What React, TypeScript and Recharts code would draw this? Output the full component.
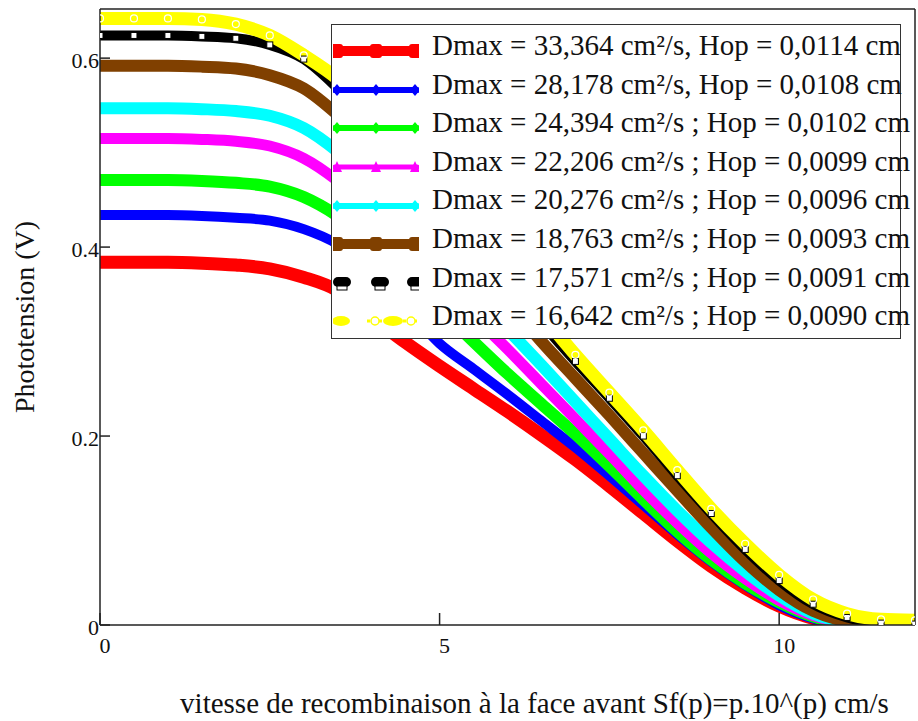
import React from 'react'
import { LineChart, Line, XAxis, YAxis, Label } from 'recharts'

// Sf exponent p (x axis)
const pValues = [0, 0.5, 1, 1.5, 2, 2.5, 3, 3.5, 4, 4.5, 5, 5.5, 6, 6.5, 7, 7.5, 8, 8.5, 9, 9.5, 10, 10.5, 11, 11.5, 12]

// phototension (V) per curve
const vRed = [0.384, 0.384, 0.384, 0.383, 0.381, 0.377, 0.368, 0.354, 0.326, 0.299, 0.274, 0.25, 0.226, 0.201, 0.175, 0.147, 0.118, 0.089, 0.062, 0.039, 0.02, 0.007, 0.001, 0, 0]
const vBlue = [0.434, 0.434, 0.434, 0.433, 0.431, 0.428, 0.419, 0.403, 0.375, 0.336, 0.298, 0.271, 0.244, 0.216, 0.188, 0.158, 0.127, 0.096, 0.067, 0.042, 0.021, 0.007, 0.001, 0, 0]
const vGreen = [0.471, 0.471, 0.471, 0.47, 0.468, 0.464, 0.453, 0.433, 0.405, 0.37, 0.335, 0.3, 0.266, 0.234, 0.202, 0.168, 0.133, 0.099, 0.069, 0.044, 0.024, 0.009, 0.002, 0, 0]
const vMagenta = [0.515, 0.515, 0.515, 0.514, 0.512, 0.507, 0.494, 0.47, 0.438, 0.4, 0.362, 0.327, 0.292, 0.255, 0.218, 0.181, 0.143, 0.108, 0.076, 0.049, 0.026, 0.01, 0.002, 0, 0]
const vCyan = [0.547, 0.547, 0.547, 0.546, 0.544, 0.539, 0.526, 0.501, 0.468, 0.429, 0.39, 0.351, 0.313, 0.275, 0.236, 0.197, 0.158, 0.121, 0.087, 0.057, 0.031, 0.012, 0.003, 0.001, 0]
const vBrown = [0.592, 0.592, 0.592, 0.591, 0.589, 0.582, 0.568, 0.54, 0.505, 0.465, 0.425, 0.384, 0.342, 0.3, 0.261, 0.222, 0.182, 0.142, 0.103, 0.067, 0.037, 0.015, 0.004, 0.001, 0]
const vBlack = [0.624, 0.624, 0.624, 0.623, 0.621, 0.614, 0.599, 0.568, 0.531, 0.491, 0.449, 0.406, 0.363, 0.32, 0.279, 0.24, 0.2, 0.158, 0.118, 0.08, 0.047, 0.022, 0.008, 0.002, 0.001]
const vYellow = [0.642, 0.642, 0.642, 0.641, 0.636, 0.624, 0.603, 0.578, 0.543, 0.503, 0.461, 0.418, 0.373, 0.329, 0.286, 0.246, 0.206, 0.164, 0.123, 0.086, 0.053, 0.027, 0.012, 0.006, 0.005]

const legendLabels = [
  'Dmax = 33,364 cm²/s, Hop = 0,0114 cm',
  'Dmax = 28,178 cm²/s, Hop = 0,0108 cm',
  'Dmax = 24,394 cm²/s ; Hop = 0,0102 cm',
  'Dmax = 22,206 cm²/s ; Hop = 0,0099 cm',
  'Dmax = 20,276 cm²/s ; Hop = 0,0096 cm',
  'Dmax = 18,763 cm²/s ; Hop = 0,0093 cm',
  'Dmax = 17,571 cm²/s ; Hop = 0,0091 cm',
  'Dmax = 16,642 cm²/s ; Hop = 0,0090 cm',
]

const xTicks = [0, 5, 10]
const yTicks = [0, 0.2, 0.4, 0.6]

const FONT = '"Liberation Serif", "Times New Roman", serif'

const series = [
  { key: 's1', values: vRed, color: '#ff0000', width: 13, marker: 'square' },
  { key: 's2', values: vBlue, color: '#0000ff', width: 10, marker: 'diamond' },
  { key: 's3', values: vGreen, color: '#00ff00', width: 12, marker: 'diamond' },
  { key: 's4', values: vMagenta, color: '#ff00ff', width: 11, marker: 'triangle' },
  { key: 's5', values: vCyan, color: '#00ffff', width: 12, marker: 'diamond' },
  { key: 's6', values: vBrown, color: '#804000', width: 12, marker: 'square' },
  { key: 's7', values: vBlack, color: '#000000', width: 10, marker: 'box' },
  { key: 's8', values: vYellow, color: '#ffff00', width: 13, marker: 'circle' },
]

const data = pValues.map((p, i) => {
  const row: any = { p }
  series.forEach((s) => { row[s.key] = s.values[i] })
  return row
})

const BlackDot = (props: any) => {
  const { cx, cy } = props
  if (cx == null || cy == null) return <g />
  return <rect x={cx - 3} y={cy - 3} width={6} height={6} fill="#fff" stroke="#000" strokeWidth={1} />
}

const YellowDot = (props: any) => {
  const { cx, cy } = props
  if (cx == null || cy == null) return <g />
  return <circle cx={cx} cy={cy} r={3.5} fill="none" stroke="#fff" strokeWidth={1.2} />
}

function LegendSample({ color, marker }: { color: string; marker: string }) {
  const xs = [6, 44, 80]
  const y = 10
  if (marker === 'box') {
    return (
      <svg width={86} height={20}>
        {xs.map((x) => (
          <g key={x}>
            <rect x={x - 6} y={y - 6} width={18} height={10} rx={5} fill="#000" />
            <rect x={x - 2} y={y + 3} width={10} height={4} fill="#fff" stroke="#000" strokeWidth={1} />
          </g>
        ))}
      </svg>
    )
  }
  if (marker === 'circle') {
    return (
      <svg width={86} height={20}>
        <ellipse cx={8} cy={y} rx={9} ry={5} fill={color} />
        <line x1={34} y1={y} x2={84} y2={y} stroke={color} strokeWidth={3} strokeDasharray="3 3" />
        <circle cx={42} cy={y} r={4} fill="#fff" stroke={color} strokeWidth={1.5} />
        <ellipse cx={60} cy={y} rx={10} ry={5} fill={color} />
        <circle cx={78} cy={y} r={4} fill="#fff" stroke={color} strokeWidth={1.5} />
      </svg>
    )
  }
  const thick = marker === 'square' ? 10 : marker === 'triangle' ? 5 : 6
  return (
    <svg width={86} height={20}>
      <line x1={2} y1={y} x2={84} y2={y} stroke={color} strokeWidth={thick} strokeLinecap="round" />
      {[4, 43, 82].map((x) => {
        if (marker === 'square') return <rect key={x} x={x - 6} y={y - 7} width={12} height={14} rx={3} fill={color} />
        if (marker === 'triangle') return <polygon key={x} points={`${x - 5},${y + 5} ${x + 5},${y + 5} ${x},${y - 6}`} fill={color} />
        return <polygon key={x} points={`${x - 5},${y} ${x},${y - 6} ${x + 5},${y} ${x},${y + 6}`} fill={color} />
      })}
    </svg>
  )
}

function LegendBox() {
  return (
    <div
      style={{
        position: 'absolute',
        left: 331,
        top: 24,
        width: 568,
        height: 312,
        background: '#fff',
        border: '1.5px solid #333',
        fontFamily: FONT,
        fontSize: 29,
        color: '#111',
        whiteSpace: 'nowrap',
        paddingTop: 1,
      }}
    >
      {series.map((s, i) => (
        <div key={s.key} style={{ height: 38.6, display: 'flex', alignItems: 'center' }}>
          <div style={{ width: 86, height: 20, marginLeft: 1 }}>
            <LegendSample color={s.color} marker={s.marker} />
          </div>
          <span style={{ marginLeft: 13, lineHeight: '38.6px' }}>{legendLabels[i]}</span>
        </div>
      ))}
    </div>
  )
}

export default function App() {
  const axisColor = '#222'
  return (
    <div style={{ position: 'absolute', left: 0, top: 0, width: 918, height: 721, background: '#fff', overflow: 'hidden' }}>
      <LineChart width={918} height={721} data={data} margin={{ top: 8, right: 2, bottom: 0, left: 0 }}>
        <XAxis
          dataKey="p"
          type="number"
          domain={[0, 12]}
          ticks={xTicks}
          allowDataOverflow
          height={96}
          stroke={axisColor}
          strokeWidth={1.5}
          tickSize={-12}
          tickMargin={24}
          tick={{ fontFamily: FONT, fontSize: 22, fill: '#111', dx: 5 }}
        >
          <Label
            content={(props: any) => {
              const vb = props.viewBox || { x: 100, y: 625, width: 815 }
              return (
                <text x={vb.x + vb.width / 2 + 27} y={vb.y + 88} textAnchor="middle" fontFamily={FONT} fontSize={29} fill="#111">
                  vitesse de recombinaison à la face avant Sf(p)=p.10^(p) cm/s
                </text>
              )
            }}
          />
        </XAxis>
        <XAxis
          xAxisId="top"
          orientation="top"
          type="number"
          domain={[0, 12]}
          height={1}
          stroke={axisColor}
          strokeWidth={1.5}
          tickLine={false}
          tick={false}
        />
        <YAxis
          type="number"
          domain={[0, 0.652]}
          ticks={yTicks}
          allowDataOverflow
          width={100}
          stroke={axisColor}
          strokeWidth={1.5}
          tickSize={-10}
          tickMargin={11}
          tick={{ fontFamily: FONT, fontSize: 22, fill: '#111', dy: 2 }}
        >
          <Label
            content={(props: any) => {
              const vb = props.viewBox || { x: 0, y: 9, height: 616 }
              const cx = vb.x + 24
              const cy = vb.y + vb.height / 2
              return (
                <text x={cx} y={cy} transform={`rotate(-90 ${cx} ${cy})`} textAnchor="middle" dominantBaseline="central" fontFamily={FONT} fontSize={28} fill="#111">
                  Phototension (V)
                </text>
              )
            }}
          />
        </YAxis>
        <YAxis
          yAxisId="right"
          orientation="right"
          type="number"
          domain={[0, 0.652]}
          ticks={yTicks}
          width={1}
          stroke={axisColor}
          strokeWidth={1.5}
          tickSize={-10}
          tick={false}
        />
        {series.map((s) => (
          <Line
            key={s.key}
            dataKey={s.key}
            type="monotone"
            stroke={s.color}
            strokeWidth={s.width}
            dot={s.marker === 'box' ? <BlackDot /> : s.marker === 'circle' ? <YellowDot /> : false}
            activeDot={false}
            isAnimationActive={false}
          />
        ))}
      </LineChart>
      <LegendBox />
    </div>
  )
}
